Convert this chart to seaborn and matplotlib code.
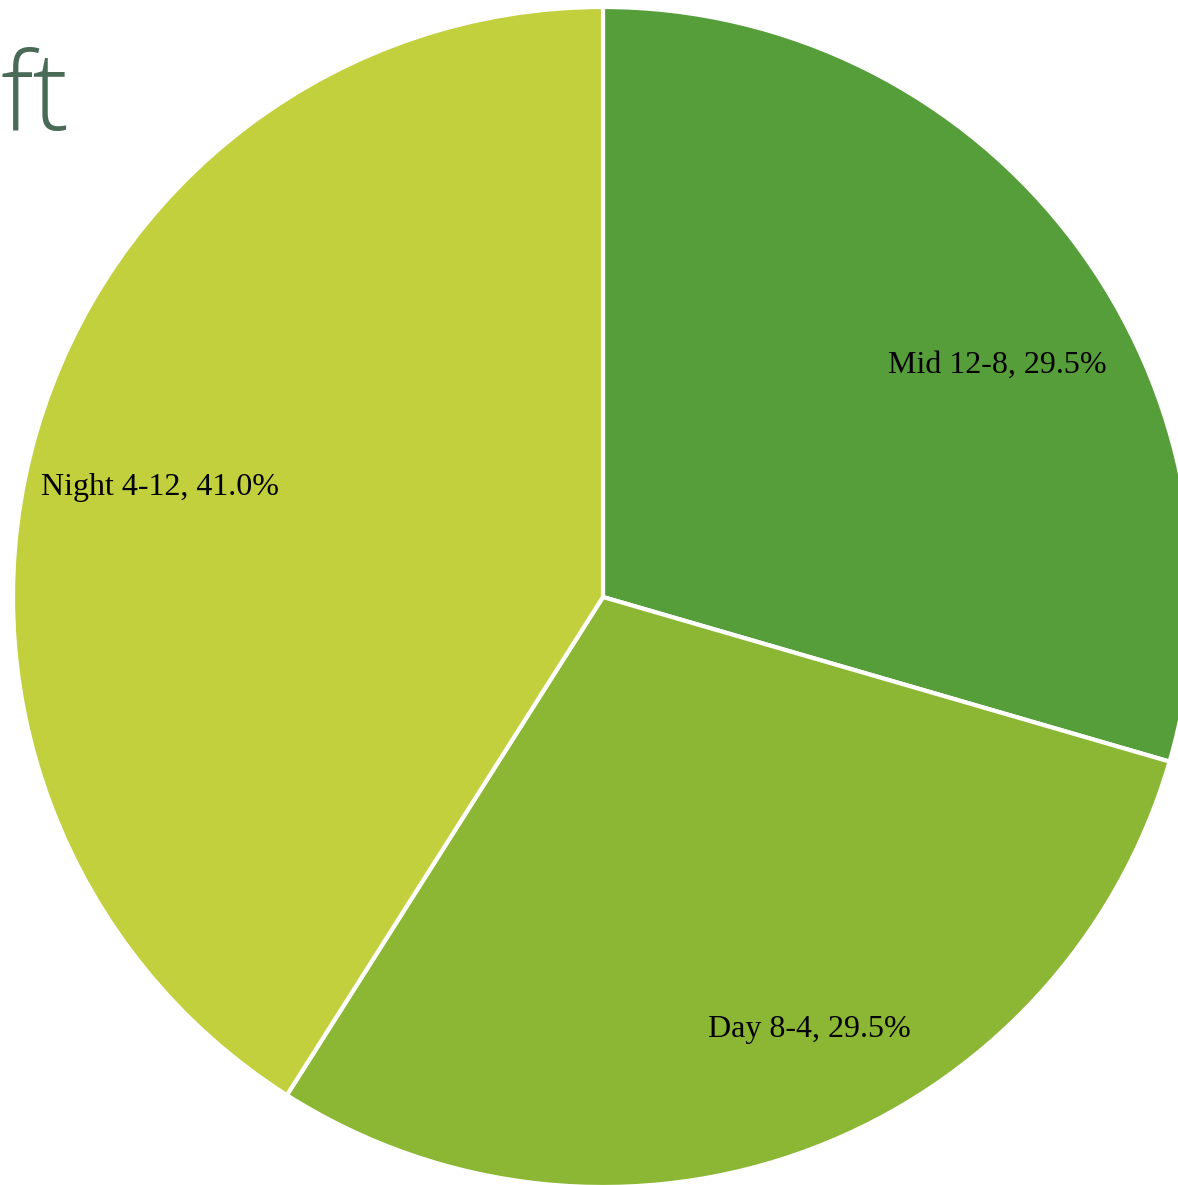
import matplotlib
matplotlib.use("Agg")
import matplotlib.pyplot as plt
import seaborn as sns

# data
shifts = ["Mid 12-8", "Day 8-4", "Night 4-12"]
shares = [29.5, 29.5, 41.0]
colors = ["#559e3a", "#8bb734", "#c2d03d"]
title_text = "ft"

sns.set_theme(style="white")

W, H = 1178, 1185
fig = plt.figure(figsize=(W / 100, H / 100), dpi=100)
ax = fig.add_axes([0, 0, 1, 1])

# pie is cropped by the figure edge like the original slide
cx, cy, r = 603, H - 597, 590
wedges, _ = ax.pie(shares, colors=colors, startangle=90, counterclock=False,
                   center=(cx, cy), radius=r, frame=True,
                   wedgeprops=dict(edgecolor="white", linewidth=3))
ax.set_xlim(0, W)
ax.set_ylim(0, H)
ax.set_aspect("equal")
ax.axis("off")

# label offsets from the pie centre (pixels)
label_offsets = [(394, 232), (206, -433), (-443, 110)]
for name, val, (dx, dy) in zip(shifts, shares, label_offsets):
    ax.text(cx + dx, cy + dy, f"{name}, {val:.1f}%", ha="center", va="center",
            fontsize=23, family="Liberation Serif", color="black")

fig.text(1, H - 130, title_text, transform=None, fontsize=78, color="#4a6a58",
         family="Open Sans", weight="light", ha="left", va="baseline")

fig.savefig("out.png", dpi=100)
